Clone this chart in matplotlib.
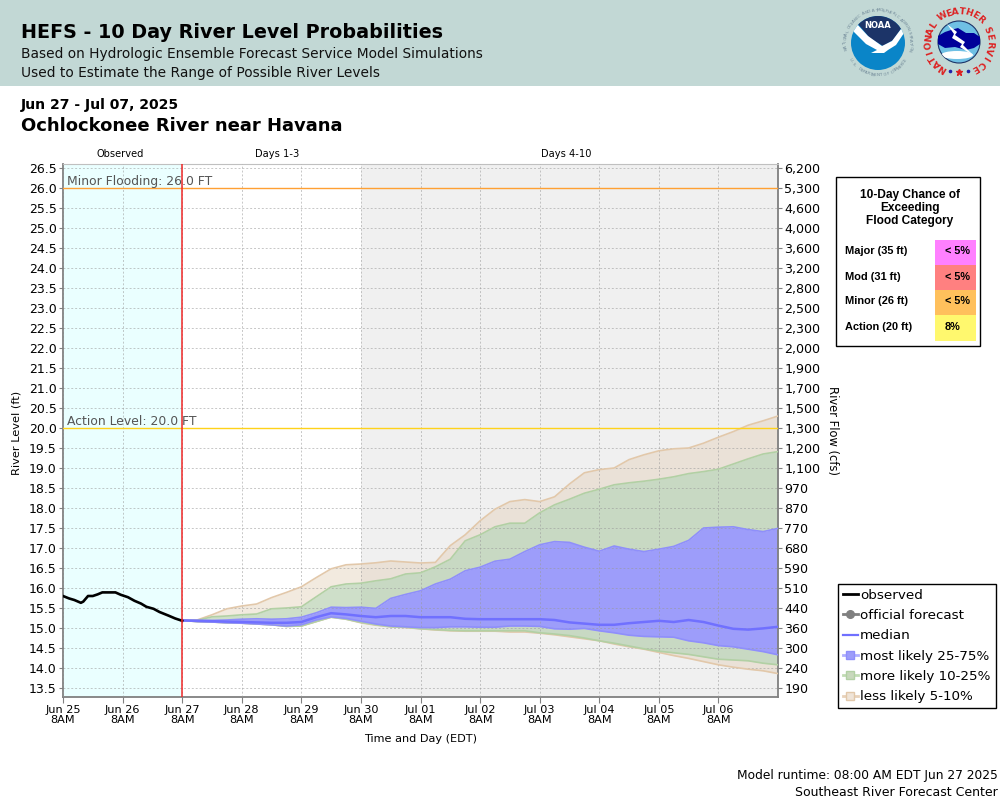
import numpy as np
import matplotlib
matplotlib.use("Agg")
import matplotlib.pyplot as plt
from matplotlib.patches import Rectangle, Circle, Polygon, Ellipse
from matplotlib.lines import Line2D

# Day offsets are measured from Jun 25 8AM
obs_days = [0, .1, .19, .3, .34, .42, .5, .58, .66, .88, .97, 1.09, 1.2, 1.31, 1.4, 1.52, 1.62, 1.77, 1.88, 2.0]
obs_level = [15.8, 15.74, 15.7, 15.63, 15.66, 15.8, 15.8, 15.84, 15.89, 15.89, 15.83, 15.77, 15.68, 15.61,
             15.53, 15.48, 15.4, 15.31, 15.24, 15.18]

# Forecast traces, one value every 6 hours from Jun 27 8AM
p05 = [15.19, 15.2, 15.33, 15.48, 15.55, 15.6, 15.76, 15.89, 16.03, 16.26, 16.48, 16.58,
       16.6, 16.63, 16.675, 16.65, 16.625, 16.64, 17.06, 17.33, 17.68, 17.97, 18.16, 18.21, 18.16, 18.28, 18.6,
       18.88, 18.96, 19.0, 19.21, 19.33, 19.43, 19.48, 19.5, 19.62, 19.77, 19.91, 20.07, 20.18, 20.3]
p10 = [15.19, 15.19, 15.28, 15.3, 15.33, 15.35, 15.48, 15.5, 15.53, 15.78, 16.03, 16.1,
       16.12, 16.18, 16.23, 16.35, 16.38, 16.53, 16.72, 17.18, 17.33, 17.53, 17.62, 17.62, 17.88, 18.08, 18.22,
       18.37, 18.47, 18.58, 18.63, 18.67, 18.72, 18.78, 18.86, 18.91, 18.97, 19.1, 19.23, 19.35, 19.41]
p25 = [15.19, 15.19, 15.19, 15.2, 15.22, 15.23, 15.22, 15.23, 15.27, 15.38, 15.52, 15.51,
       15.52, 15.49, 15.74, 15.84, 15.93, 16.1, 16.22, 16.43, 16.52, 16.67, 16.72, 16.91, 17.08, 17.16, 17.14,
       17.02, 16.92, 17.05, 16.97, 16.91, 16.97, 17.04, 17.19, 17.5, 17.52, 17.53, 17.46, 17.41, 17.49]
median = [15.19, 15.18, 15.17, 15.16, 15.15, 15.14, 15.13, 15.13, 15.15, 15.27, 15.37, 15.34,
          15.3, 15.27, 15.3, 15.3, 15.27, 15.27, 15.27, 15.23, 15.22, 15.22, 15.22, 15.22, 15.22, 15.2, 15.14,
          15.11, 15.08, 15.08, 15.12, 15.15, 15.18, 15.15, 15.2, 15.15, 15.06, 14.98, 14.96, 14.99, 15.03]
p75 = [15.19, 15.16, 15.15, 15.13, 15.12, 15.1, 15.08, 15.05, 15.08, 15.2, 15.28, 15.24,
       15.17, 15.1, 15.05, 15.03, 15.01, 15.01, 15.03, 15.03, 15.02, 15.02, 15.05, 15.05, 15.04, 14.98, 14.97,
       14.99, 14.93, 14.88, 14.82, 14.79, 14.78, 14.77, 14.68, 14.63, 14.56, 14.53, 14.47, 14.41, 14.33]
p90 = [15.19, 15.16, 15.15, 15.13, 15.12, 15.1, 15.08, 15.04, 15.05, 15.16, 15.27, 15.22,
       15.14, 15.08, 15.03, 15.02, 14.98, 14.96, 14.94, 14.93, 14.93, 14.93, 14.93, 14.93, 14.88, 14.85, 14.81,
       14.75, 14.68, 14.62, 14.55, 14.48, 14.42, 14.38, 14.34, 14.28, 14.22, 14.2, 14.18, 14.12, 14.08]
p95 = [15.19, 15.16, 15.15, 15.13, 15.12, 15.1, 15.08, 15.04, 15.05, 15.16, 15.27, 15.22,
       15.13, 15.07, 15.03, 15.01, 14.98, 14.95, 14.93, 14.92, 14.92, 14.92, 14.9, 14.9, 14.87, 14.83, 14.78,
       14.73, 14.68, 14.6, 14.53, 14.47, 14.39, 14.31, 14.24, 14.16, 14.08, 14.02, 13.97, 13.93, 13.86]

left_ticks = [13.5, 14.0, 14.5, 15.0, 15.5, 16.0, 16.5, 17.0, 17.5, 18.0, 18.5, 19.0, 19.5, 20.0, 20.5, 21.0,
              21.5, 22.0, 22.5, 23.0, 23.5, 24.0, 24.5, 25.0, 25.5, 26.0, 26.5]
flow_labels = ["190", "240", "300", "360", "440", "510", "590", "680", "770", "870", "970", "1,100", "1,200",
               "1,300", "1,500", "1,700", "1,900", "2,000", "2,300", "2,500", "2,800", "3,200", "3,600", "4,000",
               "4,600", "5,300", "6,200"]
day_labels = ["Jun 25", "Jun 26", "Jun 27", "Jun 28", "Jun 29", "Jun 30", "Jul 01", "Jul 02", "Jul 03", "Jul 04",
              "Jul 05", "Jul 06"]

categories = ["Major (35 ft)", "Mod (31 ft)", "Minor (26 ft)", "Action (20 ft)"]
chances = ["< 5%", "< 5%", "< 5%", "8%"]
chance_colors = ["#ff80ff", "#ff8080", "#ffc05c", "#fff86e"]

PURPLE = "#7070ff"
W, H = 1000, 800
plt.rcParams["font.family"] = "DejaVu Sans"

fig = plt.figure(figsize=(10, 8), dpi=100)

# full figure overlay in pixel coords, top-left origin
bg = fig.add_axes([0, 0, 1, 1], zorder=0)
bg.set_xlim(0, W)
bg.set_ylim(H, 0)
bg.axis("off")


def ring_text(axis, word, cx, cy, r, start, end, size, colr, weight="bold", clockwise=True):
    # one rotated glyph per letter around a circle
    angles = np.linspace(start, end, len(word))
    for ch, a in zip(word, angles):
        x = cx + r * np.cos(np.radians(a))
        y = cy - r * np.sin(np.radians(a))
        rot = a - 90 if clockwise else a + 90
        axis.text(x, y, ch, color=colr, fontsize=size, fontweight=weight, rotation=rot,
                  rotation_mode="anchor", ha="center", va="center")


bg.add_patch(Rectangle((0, 0), 1000, 86, color="#c2d8d5", lw=0))
bg.text(21, 33, "HEFS - 10 Day River Level Probabilities", fontsize=13.8, fontweight="bold", va="center")
bg.text(21, 54, "Based on Hydrologic Ensemble Forecast Service Model Simulations", fontsize=9.95, va="center", color="#111111")
bg.text(21, 73, "Used to Estimate the Range of Possible River Levels", fontsize=9.95, va="center", color="#111111")
bg.text(21, 105, "Jun 27 - Jul 07, 2025", fontsize=10.1, va="center", fontweight="bold")
bg.text(21, 126, "Ochlockonee River near Havana", fontsize=12.95, va="center", fontweight="bold")

# NOAA logo
noaa_x, noaa_y = 878, 43
disc = Circle((noaa_x, noaa_y), 27, fc="#0a85c8", lw=0)
bg.add_patch(disc)
navy = Polygon([(845, 10), (912, 10), (912, 24), (903, 26), (893, 40), (883, 46), (870, 38), (858, 24), (845, 20)],
               fc="#1c3468", lw=0)
bg.add_patch(navy)
navy.set_clip_path(disc)
gull = Polygon([(849, 27), (856, 23), (868, 36), (882, 46), (892, 41), (904, 25), (904, 33), (896, 45), (888, 50),
                (884, 53), (871, 53), (877, 50), (866, 44)], fc="white", lw=0)
bg.add_patch(gull)
gull.set_clip_path(disc)
bg.text(noaa_x, 25, "NOAA", color="white", fontsize=6, fontweight="bold", ha="center", va="center")
ring_text(bg, "NATIONAL OCEANIC AND ATMOSPHERIC ADMINISTRATION", noaa_x, noaa_y, 32.5, 190, -12, 3, "#6f8797", "normal")
ring_text(bg, "U.S. DEPARTMENT OF COMMERCE", noaa_x, noaa_y, 32.5, 212, 328, 3, "#6f8797", "normal", clockwise=False)

# NWS logo
nws_x, nws_y = 959, 42
nws_disc = Circle((nws_x, nws_y), 21, fc="#6fc0e4", ec="#1c3468", lw=0.8)
bg.add_patch(nws_disc)
cloud = Polygon([(938, 36), (945, 32), (951, 30), (958, 28), (966, 33), (974, 33), (980, 37), (980, 44), (974, 48),
                 (966, 50), (955, 47), (945, 48), (938, 44)], fc="#000099", lw=0)
bg.add_patch(cloud)
low_cloud = Ellipse((957, 55), 32, 8, fc="white", lw=0)
bg.add_patch(low_cloud)
low_cloud.set_clip_path(nws_disc)
bolt = Polygon([(947, 24), (957, 32), (955, 35), (965, 42), (963, 45), (974, 56), (960, 47), (962, 44), (952, 38), (954, 34)],
               fc="white", lw=0)
bg.add_patch(bolt)
ring_text(bg, "NATIONAL", nws_x, nws_y, 30.5, 238, 147, 6.6, "#dd2222", clockwise=True)
ring_text(bg, "WEATHER", nws_x, nws_y, 30.5, 122, 46, 6.6, "#dd2222", clockwise=True)
ring_text(bg, "SERVICE", nws_x, nws_y, 30.5, 23, -59, 6.6, "#dd2222", clockwise=True)
bg.plot([959], [72], marker="*", ms=4.5, color="#dd2222", lw=0)
bg.plot([950, 968], [71, 71], marker="o", ms=1.6, color="#2222aa", lw=0)

# main plot, 40 px per foot and 59.6 px per day
ax = fig.add_axes([63 / W, 1 - 697 / H, (778 - 63) / W, (697 - 164) / H], zorder=2)
ax.set_xlim(0, 12)
ax.set_ylim(13.275, 26.6)
ax.set_facecolor("white")
ax.axvspan(0, 2, color="#eaffff", lw=0, zorder=0)
ax.axvspan(5, 12, color="#f0f0f0", lw=0, zorder=0)

ax.set_yticks(left_ticks)
ax.set_yticklabels(["%.1f" % v for v in left_ticks])
ax.set_xticks(np.arange(12))
ax.set_xticklabels(["%s\n8AM" % d for d in day_labels], fontsize=8.1, linespacing=1.0)
ax.grid(True, color="#999999", alpha=0.55, ls=(0, (2, 2)), lw=0.7)
ax.set_axisbelow(False)
ax.tick_params(axis="y", labelsize=9, length=3, color="#808080", pad=1.5)
ax.tick_params(axis="x", length=4, color="#808080", pad=1.5)
for s in ax.spines.values():
    s.set_color("#c0c0c0")
ax.spines["left"].set_color("#808080")
ax.spines["right"].set_color("#808080")
ax.spines["bottom"].set_color("#808080")
ax.spines["left"].set_linewidth(1.3)
ax.spines["right"].set_linewidth(1.3)
ax.spines["bottom"].set_linewidth(1.3)
ax.set_ylabel("River Level (ft)", fontsize=8.2, labelpad=5, y=0.495)
ax.set_xlabel("Time and Day (EDT)", fontsize=8.1, labelpad=7)

# bands sit under the grid, outlines above it
fc_days = np.linspace(2, 12, 41)
ax.fill_between(fc_days, p10, p05, color="#e2cdb5", alpha=0.42, lw=0, zorder=1.1)
ax.fill_between(fc_days, p95, p90, color="#e2cdb5", alpha=0.42, lw=0, zorder=1.1)
ax.fill_between(fc_days, p25, p10, color="#b0cca8", alpha=0.62, lw=0, zorder=1.2)
ax.fill_between(fc_days, p90, p75, color="#b0cca8", alpha=0.62, lw=0, zorder=1.2)
ax.fill_between(fc_days, p75, p25, color="#9d9dfa", lw=0, zorder=1.3)
ax.plot(fc_days, p05, color="#e2c8aa", lw=1.2, zorder=5)
ax.plot(fc_days, p95, color="#e2c8aa", lw=1.2, zorder=5)
ax.plot(fc_days, p10, color="#b2d0a4", lw=1.2, zorder=5)
ax.plot(fc_days, p90, color="#b2d0a4", lw=1.2, zorder=5)
ax.plot(fc_days, p25, color="#8f8ffa", lw=1.2, zorder=5)
ax.plot(fc_days, p75, color="#8f8ffa", lw=1.2, zorder=5)
ax.plot(fc_days, median, color=PURPLE, lw=1.8, zorder=6)
ax.plot(obs_days, obs_level, color="black", lw=1.9, zorder=7)

ax.axhline(26.0, color="#ffa033", lw=1.0, zorder=6)
ax.axhline(20.0, color="#ffd21a", lw=1.0, zorder=6)
ax.axvline(2, color="#f02828", lw=1.1, zorder=8)
ax.text(0.06, 26.17, "Minor Flooding: 26.0 FT", fontsize=8.9, color="#555555", va="center", zorder=9)
ax.text(0.06, 20.17, "Action Level: 20.0 FT", fontsize=8.9, color="#555555", va="center", zorder=9)

ax2 = ax.twinx()
ax2.set_ylim(ax.get_ylim())
ax2.set_yticks(left_ticks)
ax2.set_yticklabels(flow_labels)
ax2.tick_params(axis="y", labelsize=9.1, length=3, color="#808080", pad=1.5)
for s in ax2.spines.values():
    s.set_visible(False)
bg.text(832, 431, "River Flow (cfs)", fontsize=8.3, rotation=270, ha="center", va="center")

# period labels above the plot
top = fig.add_axes([0, 0, 1, 1], zorder=5)
top.set_xlim(0, W)
top.set_ylim(H, 0)
top.axis("off")
top.text(120, 154, "Observed", fontsize=7.1, ha="center", va="center")
top.text(277, 154, "Days 1-3", fontsize=7.1, ha="center", va="center")
top.text(566, 154, "Days 4-10", fontsize=7.1, ha="center", va="center")

# flood chance table
top.add_patch(Rectangle((836, 176.5), 144, 169, fc="white", ec="black", lw=1))
for i, line in enumerate(["10-Day Chance of", "Exceeding", "Flood Category"]):
    top.text(910, 195 + i * 13, line, family="Liberation Sans", fontsize=8.6, fontweight="bold", ha="center", va="center")
row_tops = [240, 265, 290, 315]
row_heights = [25, 25, 25, 26]
for name, chance, colr, y0, h in zip(categories, chances, chance_colors, row_tops, row_heights):
    top.add_patch(Rectangle((935, y0), 41, h, fc=colr, lw=0))
    top.text(845, y0 + 11.5, name, family="Liberation Sans", fontsize=7.9, fontweight="bold", va="center")
    top.text(945, y0 + 11.5, chance, family="Liberation Sans", fontsize=7.8, fontweight="bold", va="center")

# legend box drawn by the legend itself
handles = [
    Line2D([], [], color="black", lw=2),
    Line2D([], [], color="#808080", lw=2, marker="o", ms=5.5),
    Line2D([], [], color=PURPLE, lw=1.6),
    Line2D([], [], color="#b0b0ff", lw=2, marker="s", ms=5.5, mfc="#9d9dfa", mec="#8f8ffa"),
    Line2D([], [], color="#c2dcb4", lw=2, marker="s", ms=5.5, mfc="#c8d8bc", mec="#b2d0a4"),
    Line2D([], [], color="#e8d2ba", lw=2, marker="s", ms=5.5, mfc="#efe4d8", mec="#e2c8aa"),
]
names = ["observed", "official forecast", "median", "most likely 25-75%", "more likely 10-25%", "less likely 5-10%"]
leg = top.legend(handles, names, loc="upper left", bbox_to_anchor=(837.5 / W, 1 - 583.5 / H), bbox_transform=fig.transFigure,
                 frameon=True, fancybox=False, edgecolor="black", framealpha=1, fontsize=9.7, borderaxespad=0,
                 handlelength=1.15, handletextpad=0.15, labelspacing=0.545, borderpad=0.38)
leg.get_frame().set_linewidth(1)

top.text(998, 776, "Model runtime: 08:00 AM EDT Jun 27 2025", fontsize=8.8, ha="right", va="center")
top.text(998, 792, "Southeast River Forecast Center", fontsize=9, ha="right", va="center")

fig.savefig("out.png", dpi=100)
